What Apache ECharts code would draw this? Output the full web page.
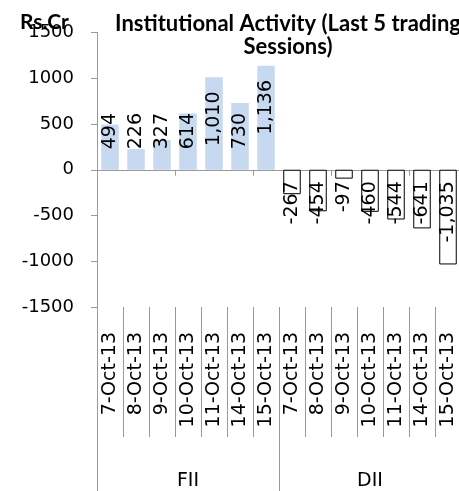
<!DOCTYPE html>
<html><head><meta charset="utf-8">
<script src="https://cdn.jsdelivr.net/npm/echarts@6/dist/echarts.min.js"></script>
<style>html,body{margin:0;padding:0;background:#fff}#c{width:459px;height:491px}</style>
</head><body><div id="c"></div>
<script>
const dates = ['7-Oct-13','8-Oct-13','9-Oct-13','10-Oct-13','11-Oct-13','14-Oct-13','15-Oct-13'];
const groups = ['FII','DII'];
const fiiValues = [494, 226, 327, 614, 1010, 730, 1136];
const diiValues = [-267, -454, -97, -460, -544, -641, -1035];
const yMin = -1500, yMax = 1500, yStep = 500;

const n = dates.length;
const categories = groups.flatMap(() => dates);
const axisGray = '#9a9a9a';
const numFont = 'DejaVu Sans';

const fiiData = categories.map((_, i) => {
  if (i >= n) return null;
  const v = fiiValues[i];
  const off = Math.min(155, v - 620);
  return { value: v, label: { position: ['50%', (off / v * 100) + '%'] } };
});
const diiData = categories.map((_, i) => {
  if (i < n) return null;
  const v = diiValues[i - n];
  return { value: v, label: { position: ['50%', (126 / Math.abs(v) * 100) + '%'] } };
});

const labelBase = {
  show: true, rotate: 90, align: 'right', verticalAlign: 'middle',
  fontFamily: numFont, fontSize: 19, color: '#000',
  formatter: p => p.value.toLocaleString('en-US')
};
const noGrid = { outerBoundsMode: 'none', containLabel: false };

const chart = echarts.init(document.getElementById('c'), null, {renderer: 'canvas'});
chart.setOption({
  animation: false,
  backgroundColor: '#fff',
  title: [
    { text: 'Institutional Activity (Last 5 trading\nSessions)', left: 283, top: 7, textAlign: 'center',
      textStyle: { fontFamily: 'Lato', fontWeight: 'bold', fontSize: 22, lineHeight: 23, color: '#000' } },
    { text: 'Rs.Cr', left: 15, top: 7,
      textStyle: { fontFamily: 'Lato', fontWeight: 'bold', fontSize: 21, color: '#000' } }
  ],
  grid: [
    Object.assign({ left: 97, right: -2, top: 32.5, bottom: 184 }, noGrid),
    Object.assign({ left: 97, right: -2, top: 307, bottom: 54 }, noGrid),
    Object.assign({ left: 97, right: -2, top: 307, bottom: 0 }, noGrid),
    Object.assign({ left: 97, right: -2, top: 300, bottom: 160 }, noGrid)
  ],
  xAxis: [
    { gridIndex: 0, type: 'category', data: categories,
      axisLine: { show: true, onZero: true, lineStyle: { color: axisGray, width: 1 } },
      axisTick: { show: true, length: 6, lineStyle: { color: axisGray } },
      axisLabel: { show: false }, splitLine: { show: false } },
    { gridIndex: 1, type: 'category', data: categories, position: 'top',
      axisLine: { show: false }, axisTick: { show: false }, axisLabel: { show: false },
      splitLine: { show: true, interval: 0, lineStyle: { color: axisGray, width: 1 } } },
    { gridIndex: 2, type: 'category', data: groups, position: 'top',
      axisLine: { show: false }, axisTick: { show: false },
      splitLine: { show: true, interval: 0, lineStyle: { color: axisGray, width: 1 } },
      axisLabel: { interval: 0, inside: true, margin: 174, verticalAlign: 'middle',
        fontFamily: numFont, fontSize: 19, color: '#000' } },
    { gridIndex: 3, type: 'category', data: categories, position: 'bottom',
      axisLine: { show: false }, axisTick: { show: false }, splitLine: { show: false },
      axisLabel: { interval: 0, rotate: 90, margin: 1, align: 'right', verticalAlign: 'middle',
        fontFamily: numFont, fontSize: 19, color: '#000' } }
  ],
  yAxis: [
    { gridIndex: 0, type: 'value', min: yMin, max: yMax, interval: yStep,
      axisLine: { show: true, lineStyle: { color: axisGray, width: 1 } },
      axisTick: { show: true, length: 6, lineStyle: { color: axisGray } },
      splitLine: { show: false },
      axisLabel: { margin: 23, fontFamily: numFont, fontSize: 18, color: '#000', formatter: v => String(v) } },
    { gridIndex: 1, type: 'value', show: false },
    { gridIndex: 2, type: 'value', min: 0, max: 1,
      axisLine: { show: true, lineStyle: { color: axisGray, width: 1 } },
      axisTick: { show: false }, axisLabel: { show: false }, splitLine: { show: false } },
    { gridIndex: 3, type: 'value', show: false }
  ],
  series: [
    { name: 'FII', type: 'bar', xAxisIndex: 0, yAxisIndex: 0, data: fiiData,
      barWidth: 17.5, barGap: '-100%',
      itemStyle: { color: '#c6d9f1' }, label: labelBase },
    { name: 'DII', type: 'bar', xAxisIndex: 0, yAxisIndex: 0, data: diiData,
      barWidth: 17.5, barGap: '-100%',
      itemStyle: { color: '#ffffff', borderColor: '#000', borderWidth: 1 }, label: labelBase }
  ]
});
</script></body></html>
